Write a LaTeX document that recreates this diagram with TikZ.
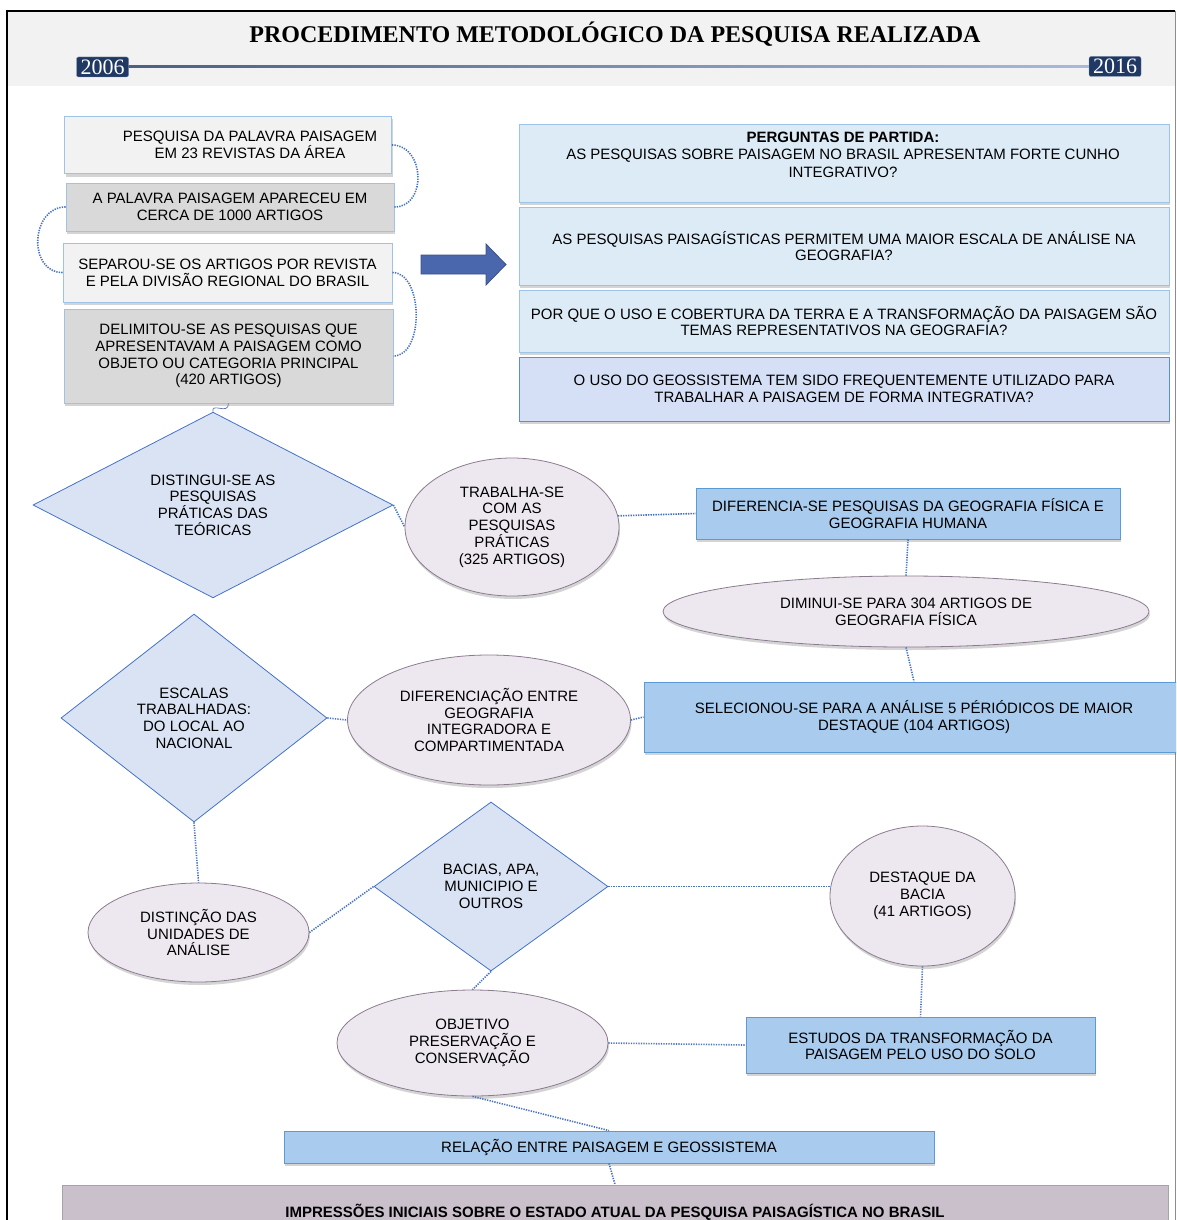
\documentclass[tikz,border=0pt]{standalone}
\usepackage{fontspec}
\setmainfont{Liberation Sans}
\newfontfamily\titlefont{Liberation Serif}
\usetikzlibrary{shapes.geometric, shadows, calc, positioning}
\definecolor{hdGrey}{HTML}{F2F2F2}
\definecolor{yearNavy}{HTML}{1F3864}
\definecolor{lineEnd}{HTML}{A9B9DE}
\definecolor{boxLight}{HTML}{F2F2F2}
\definecolor{boxGrey}{HTML}{D9D9D9}
\definecolor{boxEdge}{HTML}{9DC3E6}
\definecolor{qFill}{HTML}{DDEBF7}
\definecolor{qFillDeep}{HTML}{D5E0F6}
\definecolor{qEdgeDeep}{HTML}{5B8FD5}
\definecolor{diaFill}{HTML}{DAE3F3}
\definecolor{diaEdge}{HTML}{4472C4}
\definecolor{ovFill}{HTML}{EDE8F0}
\definecolor{ovEdge}{HTML}{8B7B8F}
\definecolor{stepFill}{HTML}{A8CBEE}
\definecolor{stepEdge}{HTML}{5B9BD5}
\definecolor{endFill}{HTML}{C9C0CC}
\definecolor{endEdge}{HTML}{A5A5A5}
\definecolor{arrowFill}{HTML}{4A66AC}
\definecolor{arrowEdge}{HTML}{3A5290}
\definecolor{linkBlue}{HTML}{4472C4}
\tikzset{
  lbl/.style       = {font=\fontsize{15}{16.7}\selectfont, align=center, inner sep=0pt},
  titlelbl/.style  = {font=\titlefont\bfseries\fontsize{24}{27}\selectfont},
  yearbox/.style   = {rectangle, rounded corners=2pt, fill=yearNavy, draw=yearNavy!55,
                      text=white, font=\titlefont\fontsize{22}{22}\selectfont,
                      inner xsep=4pt, inner ysep=0pt, minimum height=20pt},
  shadowed/.style  = {drop shadow={shadow xshift=1pt, shadow yshift=-3pt,
                      opacity=0.28, fill=black!60}},
  listbox/.style   = {rectangle, draw=boxEdge, fill=#1, line width=0.9pt, shadowed, lbl},
  askbox/.style    = {rectangle, draw=boxEdge, fill=qFill, line width=0.9pt, shadowed, lbl},
  stepbox/.style   = {rectangle, draw=stepEdge, fill=stepFill, line width=0.9pt, shadowed, lbl},
  choice/.style    = {diamond, draw=diaEdge, fill=diaFill, line width=0.8pt, lbl},
  oval/.style      = {ellipse, draw=ovEdge, fill=ovFill, line width=0.8pt, shadowed, lbl},
  link/.style      = {linkBlue, line width=1.6pt, dash pattern=on 1.3pt off 1.2pt},
  wavy/.style      = {linkBlue!60!gray, line width=0.7pt},
}
\begin{document}
\begin{tikzpicture}[x=1pt, y=-1pt]
  \useasboundingbox (0,0) rectangle (1176,1220);
  \clip (0,0) rectangle (1176,1220);

  % header band and frame
  \fill[hdGrey] (7,11) rectangle (1175,86);
  \draw[black, line width=1.6pt] (7,1230) -- (7,11) -- (1175,11);
  \draw[black!45, line width=0.8pt] (1175,11) -- (1175,1230);

  \node[titlelbl] (title) at (615,34) {PROCEDIMENTO METODOLÓGICO DA PESQUISA REALIZADA};
  \node[yearbox] (y06) at (102.5,67) {2006};
  \node[yearbox] (y16) at (1115,66.5) {2016};
  \shade[left color=yearNavy!80, right color=lineEnd]
    ($(y06.east)+(0,-1)$) rectangle ($(y16.west)+(0,1)$);

  % left column
  \node[listbox=boxLight, minimum width=327pt, minimum height=57pt] (b1) at (228,145) {};
  \node[lbl] (b1txt) at (250,145) {PESQUISA DA PALAVRA PAISAGEM\\EM 23 REVISTAS DA ÁREA};
  \node[listbox=boxGrey, minimum width=328pt, minimum height=48pt] (b2) at (230,207)
    {A PALAVRA PAISAGEM APARECEU EM\\CERCA DE 1000 ARTIGOS};
  \node[listbox=boxLight, minimum width=329pt, minimum height=59pt] (b3) at (227.5,272.5)
    {SEPAROU-SE OS ARTIGOS POR REVISTA\\E PELA DIVISÃO REGIONAL DO BRASIL};
  \node[listbox=boxGrey, minimum width=329pt, minimum height=94pt] (b4) at (228.5,356)
    {DELIMITOU-SE AS PESQUISAS QUE\\APRESENTAVAM A PAISAGEM COMO\\OBJETO OU CATEGORIA PRINCIPAL\\(420 ARTIGOS)};

  \draw[link] (b1.east) .. controls +(33,0) and +(33,0) .. (b2.east);
  \draw[link] (b2.west) .. controls +(-35,0) and +(-35,0) .. (b3.west);
  \draw[link] (b3.east) .. controls +(31,0) and +(31,0) .. (b4.east);

  % block arrow
  \draw[fill=arrowFill, draw=arrowEdge, line width=0.8pt]
    (421,255) -- (486,255) -- (486,244) -- (506,264.5) -- (486,285) -- (486,274) -- (421,274) -- cycle;

  % questions
  \node[askbox, minimum width=650pt, minimum height=78pt] (q1) at (844,163) {};
  \node[lbl] (q1txt) at (843,155)
    {\textbf{PERGUNTAS DE PARTIDA:}\\AS PESQUISAS SOBRE PAISAGEM NO BRASIL APRESENTAM FORTE CUNHO\\[1.5pt]INTEGRATIVO?};
  \node[askbox, minimum width=650pt, minimum height=78pt] (q2) at (844,246)
    {AS PESQUISAS PAISAGÍSTICAS PERMITEM UMA MAIOR ESCALA DE ANÁLISE NA\\GEOGRAFIA?};
  \node[askbox, minimum width=650pt, minimum height=62pt] (q3) at (844,321)
    {POR QUE O USO E COBERTURA DA TERRA E A TRANSFORMAÇÃO DA PAISAGEM SÃO\\TEMAS REPRESENTATIVOS NA GEOGRAFIA?};
  \node[askbox, fill=qFillDeep, draw=qEdgeDeep, minimum width=650pt, minimum height=64pt] (q4) at (844,389)
    {O USO DO GEOSSISTEMA TEM SIDO FREQUENTEMENTE UTILIZADO PARA\\TRABALHAR A PAISAGEM DE FORMA INTEGRATIVA?};

  % flow
  \node[choice, minimum width=360pt, minimum height=164pt] (dA) at (213,505)
    {DISTINGUI-SE AS\\PESQUISAS\\PRÁTICAS DAS\\TEÓRICAS};
  \node[oval, minimum width=214pt, minimum height=138pt] (eA) at (512,527)
    {TRABALHA-SE\\COM AS\\PESQUISAS\\PRÁTICAS\\(325 ARTIGOS)};
  \node[stepbox, minimum width=424pt, minimum height=51pt] (diff) at (908,513.5)
    {DIFERENCIA-SE PESQUISAS DA GEOGRAFIA FÍSICA E\\GEOGRAFIA HUMANA};
  \node[oval, minimum width=486pt, minimum height=71pt] (dim) at (906,611.5)
    {DIMINUI-SE PARA 304 ARTIGOS DE\\GEOGRAFIA FÍSICA};
  \node[choice, minimum width=266pt, minimum height=208pt] (dB) at (194,718)
    {ESCALAS\\TRABALHADAS:\\DO LOCAL AO\\NACIONAL};
  \node[oval, minimum width=283pt, minimum height=130pt] (eB) at (489,720)
    {DIFERENCIAÇÃO ENTRE\\GEOGRAFIA\\INTEGRADORA E\\COMPARTIMENTADA};
  \node[stepbox, minimum width=540pt, minimum height=70pt] (sel) at (914,717)
    {SELECIONOU-SE PARA A ANÁLISE 5 PÉRIÓDICOS DE MAIOR\\DESTAQUE (104 ARTIGOS)};
  \node[oval, minimum width=221pt, minimum height=99pt] (eC) at (198.5,932.5)
    {DISTINÇÃO DAS\\UNIDADES DE\\ANÁLISE};
  \node[choice, minimum width=234pt, minimum height=169pt] (dC) at (491,886.5)
    {BACIAS, APA,\\MUNICIPIO E\\OUTROS};
  \node[oval, minimum width=185pt, minimum height=140pt] (eE) at (922.5,896)
    {DESTAQUE DA\\BACIA\\(41 ARTIGOS)};
  \node[oval, minimum width=271pt, minimum height=106pt] (eD) at (472.5,1043)
    {OBJETIVO\\PRESERVAÇÃO E\\CONSERVAÇÃO};
  \node[stepbox, minimum width=349pt, minimum height=56pt] (study) at (920.5,1045)
    {ESTUDOS DA TRANSFORMAÇÃO DA\\PAISAGEM PELO USO DO SOLO};
  \node[stepbox, minimum width=650pt, minimum height=32pt] (rel) at (609,1147)
    {RELAÇÃO ENTRE PAISAGEM E GEOSSISTEMA};
  \node[rectangle, draw=endEdge, fill=endFill, line width=0.9pt, shadowed, lbl,
        font=\fontsize{15}{16.7}\selectfont\bfseries,
        minimum width=1106pt, minimum height=54pt] (end) at (615,1212)
    {IMPRESSÕES INICIAIS SOBRE O ESTADO ATUAL DA PESQUISA PAISAGÍSTICA NO BRASIL};

  % connectors
  \draw[wavy] (b4.south) .. controls +(0,12) and +(-2,-10) .. (dA.north);
  \draw[link] (dA.east) -- (eA.west);
  \draw[link] (eA.6) -- (diff.west);
  \draw[link] (diff.south) -- (dim.north);
  \draw[link] (dim.south) -- (sel.north);
  \draw[link] (dB.east) -- (eB.west);
  \draw[link] (eB.east) -- (sel.west);
  \draw[link] (dB.south) -- (eC.north);
  \draw[link] (eC.east) -- (dC.west);
  \draw[link] (dC.east) -- (dC.east -| eE.west);
  \draw[link] (dC.south) -- (eD.north);
  \draw[link] (eE.south) -- (study.north);
  \draw[link] (eD.east) -- (study.west);
  \draw[link] (eD.south) -- (rel.north);
  \draw[link] (rel.south) -- (end.north);
\end{tikzpicture}
\end{document}
